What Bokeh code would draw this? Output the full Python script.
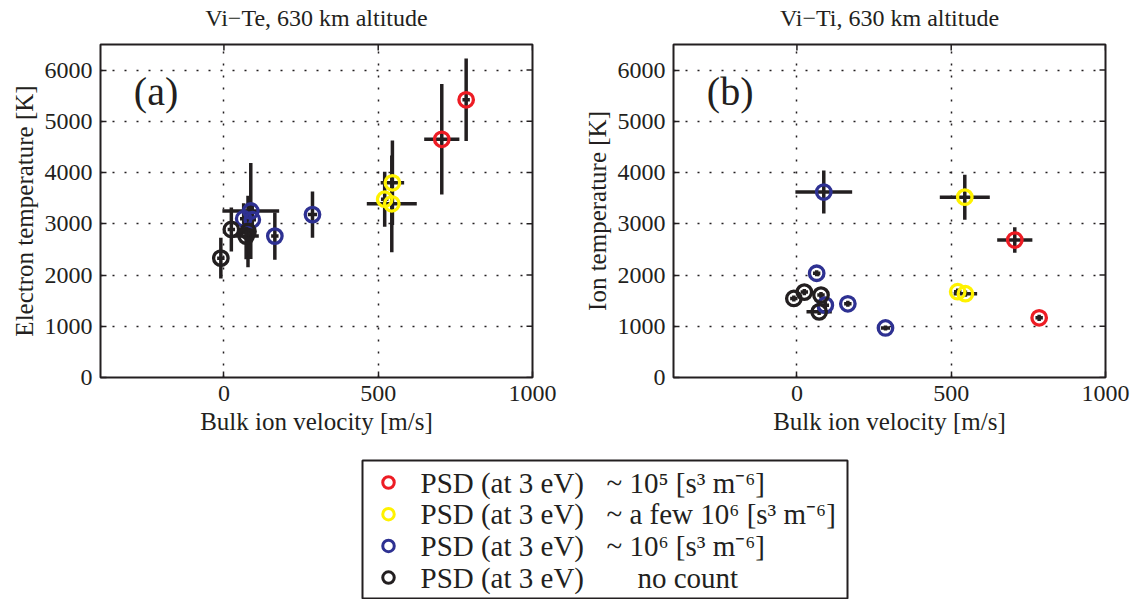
import numpy as np
from bokeh.plotting import figure
from bokeh.models import FixedTicker, Label, Range1d
from bokeh.layouts import column, row
from bokeh.embed import file_html
from bokeh.resources import INLINE
from bokeh.core.properties import value

# ---------------- data ----------------
group = ["red", "red",
         "yellow", "yellow", "yellow",
         "blue", "blue", "blue", "blue", "blue",
         "black", "black", "black", "black"]
velocity     = [785, 706, 546, 521, 544, 87, 64, 92, 165, 287, -10, 24, 78, 72]
velocity_err = [12, 57, 38, 12, 81, 92, 12, 12, 12, 15, 12, 12, 12, 41]
te           = [5420, 4650, 3800, 3480, 3390, 3250, 3100, 3080, 2760, 3180, 2330, 2890, 2850, 2760]
te_err       = [805, 1080, 825, 537, 944, 935, 300, 300, 460, 450, 400, 430, 700, 450]
ti           = [1165, 2683, 1636, 1675, 3520, 3620, 2035, 1412, 1439, 967, 1543, 1667, 1608, 1281]
ti_err       = [60, 250, 60, 60, 440, 420, 60, 60, 60, 50, 60, 60, 60, 60]

x_ticks = [0, 500, 1000]
y_ticks = [0, 1000, 2000, 3000, 4000, 5000, 6000]
x_lim = (-400, 1000)
y_lim = (0, 6500)

panel_titles = ["Vi\u2212Te, 630 km altitude", "Vi\u2212Ti, 630 km altitude"]
panel_tags = ["(a)", "(b)"]
y_labels = ["Electron temperature [K]", "Ion temperature [K]"]

legend_groups = ["red", "yellow", "blue", "black"]
legend_main = ["PSD (at 3 eV)"] * 4
legend_extra = ["~ 10\u2075  [s\u00b3 m\u207b\u2076]",
                "~ a few 10\u2076 [s\u00b3 m\u207b\u2076]",
                "~ 10\u2076   [s\u00b3 m\u207b\u2076]",
                "no count"]

colors = {"red": "#ED1C24", "yellow": "#FFF200", "blue": "#2E3192", "black": "#231F20"}
INK = "#231F20"
FONT = "Liberation Serif"

FRAME_W, FRAME_H = 432, 333
HEADER_H = 30


def make_panel(yvals, yerrs, ylabel, tag, left_border, right_border):
    p = figure(frame_width=FRAME_W, frame_height=FRAME_H,
               x_range=Range1d(*x_lim), y_range=Range1d(*y_lim),
               output_backend="svg", toolbar_location=None,
               min_border_left=left_border, min_border_right=right_border,
               min_border_top=44 - HEADER_H, min_border_bottom=75,
               background_fill_color="white", border_fill_color="white")

    p.outline_line_color = INK
    p.outline_line_width = 2
    p.outline_line_alpha = 1

    p.xaxis.ticker = FixedTicker(ticks=x_ticks)
    p.yaxis.ticker = FixedTicker(ticks=y_ticks)
    for ax in p.axis:
        ax.axis_line_color = None
        ax.major_tick_in = 6
        ax.major_tick_out = 0
        ax.major_tick_line_color = INK
        ax.major_tick_line_width = 1.5
        ax.minor_tick_line_color = None
        ax.major_label_text_font = FONT
        ax.major_label_text_font_size = "24px"
        ax.major_label_text_color = INK
        ax.axis_label_text_font = FONT
        ax.axis_label_text_font_size = "25px"
        ax.axis_label_text_font_style = "normal"
        ax.axis_label_text_color = INK
    p.xaxis.axis_label = "Bulk ion velocity [m/s]"
    p.yaxis.axis_label = ylabel
    p.xaxis.major_label_standoff = 8
    p.xaxis.axis_label_standoff = 4
    p.yaxis.major_label_standoff = 8
    p.yaxis.axis_label_standoff = 4

    p.xgrid.ticker = FixedTicker(ticks=[0, 500])
    p.ygrid.ticker = FixedTicker(ticks=y_ticks[1:])
    for g in (p.xgrid, p.ygrid):
        g.grid_line_color = INK
        g.grid_line_width = 1.5
        g.grid_line_dash = "2 10"

    # mirrored tick marks on the top and right edges (half of each dash is clipped away)
    p.scatter(x_ticks, [y_lim[1]] * len(x_ticks), marker="dash", angle=np.pi / 2,
              size=12, line_color=INK, line_width=1.5)
    p.scatter([x_lim[1]] * len(y_ticks), y_ticks, marker="dash",
              size=12, line_color=INK, line_width=1.5)

    x = np.array(velocity, dtype=float)
    xe = np.array(velocity_err, dtype=float)
    y = np.array(yvals, dtype=float)
    ye = np.array(yerrs, dtype=float)

    p.segment(x0=x - xe, y0=y, x1=x + xe, y1=y, line_color=INK, line_width=3.5, line_cap="butt")
    p.segment(x0=x, y0=y - ye, x1=x, y1=y + ye, line_color=INK, line_width=3.5, line_cap="butt")

    for gname in ["blue", "yellow", "red", "black"]:
        idx = [i for i, g in enumerate(group) if g == gname]
        p.scatter(x[idx], y[idx], marker="circle", size=14.5, fill_color=None,
                  line_color=colors[gname], line_width=3.3)

    p.add_layout(Label(x=-292, y=5150, text=tag, text_font=FONT, text_font_size="40px",
                       text_color=INK))
    return p


LEFT = [100, 106]
RIGHT = [35, 29]
p1 = make_panel(te, te_err, y_labels[0], panel_tags[0], LEFT[0], RIGHT[0])
p2 = make_panel(ti, ti_err, y_labels[1], panel_tags[1], LEFT[1], RIGHT[1])

# ---------------- header strip with the two panel titles ----------------
W1 = LEFT[0] + FRAME_W + RIGHT[0]
title_x = [LEFT[0] + FRAME_W / 2, W1 + LEFT[1] + FRAME_W / 2]
head = figure(width=1134, height=HEADER_H, x_range=Range1d(0, 1134), y_range=Range1d(HEADER_H, 0),
              output_backend="svg", toolbar_location=None, min_border=0,
              background_fill_color="white", border_fill_color="white")
head.axis.visible = False
head.grid.visible = False
head.outline_line_color = None
head.text(title_x, [17, 17], text=panel_titles, text_font=value(FONT), text_font_size="24px",
          text_align="center", text_baseline="middle", text_color=INK)

# ---------------- legend panel ----------------
leg = figure(width=1134, height=147, x_range=Range1d(0, 1134), y_range=Range1d(147, 0),
             output_backend="svg", toolbar_location=None, min_border=0,
             background_fill_color="white", border_fill_color="white")
leg.axis.visible = False
leg.grid.visible = False
leg.outline_line_color = None

leg.quad(left=[362], right=[847], top=[8], bottom=[146], fill_color=None,
         line_color=INK, line_width=2)
row_y = [30 + 31.7 * i for i in range(len(legend_groups))]
leg.scatter([388] * 4, row_y, marker="circle", size=11.5, fill_color=None,
            line_color=[colors[g] for g in legend_groups], line_width=3)
leg.text([420] * 4, row_y, text=legend_main, text_font=value(FONT), text_font_size="29px",
         text_baseline="middle", text_color=INK)
leg.text([606, 606, 606, 637], row_y, text=legend_extra, text_font=value(FONT),
         text_font_size="29px", text_baseline="middle", text_color=INK)

layout = column(head, row(p1, p2, spacing=0), leg, spacing=0)
open("out.html", "w").write(file_html(layout, INLINE))
